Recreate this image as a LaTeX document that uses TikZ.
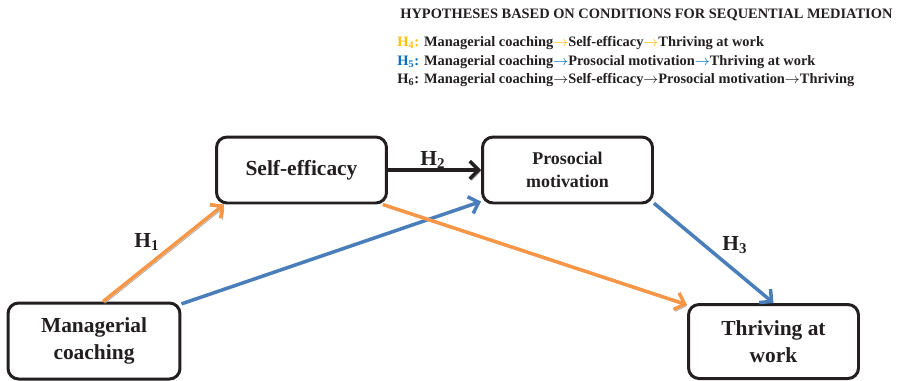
\documentclass[tikz,border=0pt]{standalone}
\usepackage{fontspec}
\setmainfont{Liberation Serif}
\usetikzlibrary{arrows.meta}
\definecolor{ink}{HTML}{231F20}
\definecolor{orng}{HTML}{F79646}
\definecolor{blu}{HTML}{4A7EBB}
\definecolor{hyell}{HTML}{FFC000}
\definecolor{hblu}{HTML}{0070C0}
\newcommand{\harr}{$\rightarrow$}

\begin{document}
\begin{tikzpicture}[x=0.02cm, y=-0.02cm, >={Straight Barb[length=5pt,width=10pt]},
  font=\bfseries, text=ink,
  box/.style={draw=ink, line width=1.7pt, rounded corners=6pt, fill=white, align=center,
    minimum width=3.4cm, minimum height=1.32cm, inner sep=2pt},
  big/.style={font=\fontsize{12.2}{15.3}\selectfont\bfseries},
  lnk/.style={->, line width=2pt},
  shd/.style={preaction={draw=gray!70, transform canvas={shift={(1pt,-1pt)}}}},
  hl/.style={anchor=west, inner sep=0pt, font=\fontsize{8.2}{10}\selectfont\bfseries},
  lbl/.style={inner sep=1pt, font=\fontsize{12.2}{14}\selectfont\bfseries}
]
\useasboundingbox (0,0) rectangle (901,380);
% hypotheses list
\node[hl] (title) at (400,15) {HYPOTHESES BASED ON CONDITIONS FOR SEQUENTIAL MEDIATION};
\node[hl] (h4) at (397,43) {\textcolor{hyell}{H\textsubscript{4}:} Managerial coaching\textcolor{hyell}{\harr}Self-efficacy\textcolor{hyell}{\harr}Thriving at work};
\node[hl] (h5) at (397,62) {\textcolor{hblu}{H\textsubscript{5}:} Managerial coaching\textcolor{hblu}{\harr}Prosocial motivation\textcolor{hblu}{\harr}Thriving at work};
\node[hl] (h6) at (397,80) {H\textsubscript{6}: Managerial coaching\harr Self-efficacy\harr Prosocial motivation\harr Thriving};
% constructs
\node[box, big, minimum width=3.44cm, minimum height=1.52cm] (mc) at (94,341) {Managerial\\coaching};
\node[box, big] (se) at (301.5,170) {Self-efficacy};
\node[box, font=\fontsize{10.2}{13}\selectfont\bfseries] (pm) at (567.5,170) {Prosocial\\motivation};
\node[box, big, minimum height=1.48cm] (tw) at (773.5,341.5) {Thriving at\\work};
% paths
\draw[lnk, blu] (mc.23) -- (pm.200);
\draw[lnk, orng, shd] (mc.77) -- (se.204);
\draw[lnk, ink, shd] (se.east) -- (pm.west);
\draw[lnk, orng, shd] (se.337) -- (tw.157);
\draw[lnk, blu] (pm.339) -- (tw.north);
% labels
\node[lbl] (l1) at (147,242) {H\textsubscript{1}};
\node[lbl] (l2) at (433,160) {H\textsubscript{2}};
\node[lbl] (l3) at (735,245) {H\textsubscript{3}};
\end{tikzpicture}
\end{document}
